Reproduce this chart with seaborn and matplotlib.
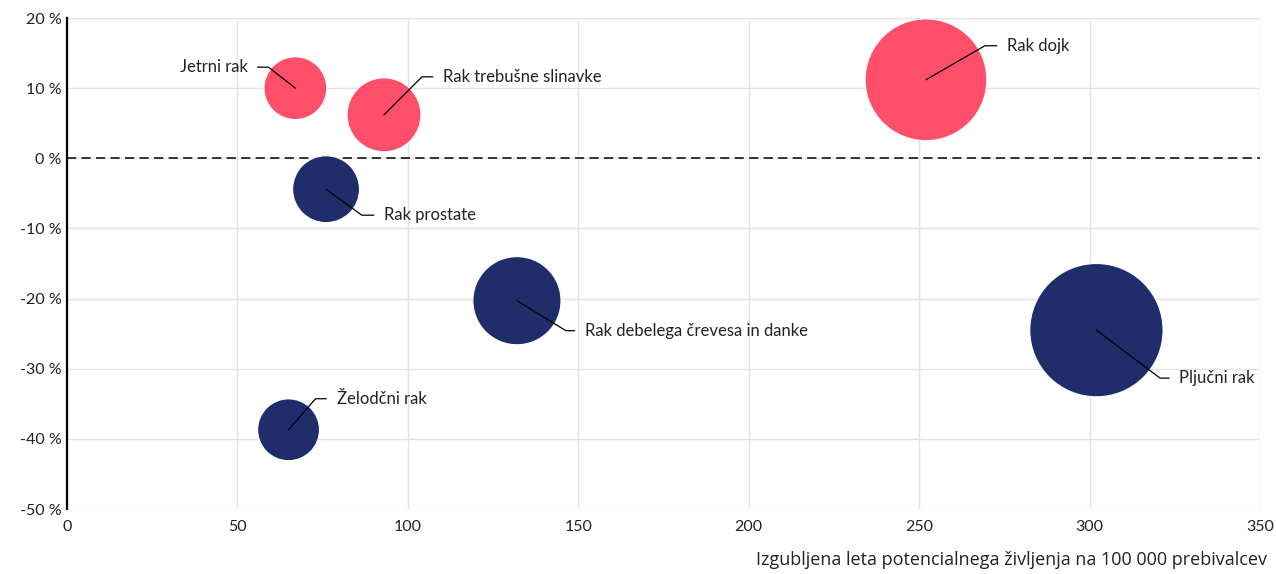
import numpy as np
import pandas as pd
import seaborn as sns
import matplotlib.pyplot as plt
from matplotlib.ticker import FuncFormatter

# podatki
vrste_raka = ['Jetrni rak', 'Rak trebušne slinavke', 'Rak dojk', 'Rak prostate',
              'Rak debelega črevesa in danke', 'Pljučni rak', 'Želodčni rak']
izgubljena_leta = [67, 93, 252, 76, 132, 302, 65]
sprememba = [10.0, 6.2, 11.2, -4.4, -20.3, -24.5, -38.7]
velikost = [67, 93, 252, 76, 132, 302, 65]
skupina = ['rast', 'rast', 'rast', 'padec', 'padec', 'padec', 'padec']

df = pd.DataFrame({'vrsta': vrste_raka, 'x': izgubljena_leta, 'y': sprememba,
                   'velikost': velikost, 'skupina': skupina})

sns.set_theme(style='white')
plt.rcParams['font.family'] = ['Lato', 'DejaVu Sans']

fig = plt.figure(figsize=(12.76, 5.74), dpi=100)
ax = fig.add_axes([0.0525, 0.1132, 0.935, 0.8554])

k = 30.5  # točke^2 na enoto
sns.scatterplot(data=df, x='x', y='y', size='velikost', hue='skupina',
                sizes=(k * min(velikost), k * max(velikost)),
                palette={'rast': '#FF4F6B', 'padec': '#1F2E6B'},
                edgecolor='white', linewidth=0.8, alpha=1, legend=False,
                ax=ax, zorder=3)

ax.set_xlim(0, 350)
ax.set_ylim(-50, 20)
ax.set_xticks(range(0, 351, 50))
ax.set_yticks(range(-50, 21, 10))
ax.yaxis.set_major_formatter(FuncFormatter(lambda v, p: f'{v:.0f} %'))
ax.grid(True, color='#E3E3E3', linewidth=1, zorder=0)
ax.set_axisbelow(True)
for s in ['top', 'right', 'bottom']:
    ax.spines[s].set_visible(False)
ax.spines['left'].set_color('black')
ax.spines['left'].set_linewidth(1.6)
ax.tick_params(axis='both', labelsize=11.5, colors='#222222', length=0, pad=4)
ax.tick_params(axis='x', pad=8)

ax.axhline(0, color='black', linestyle=(0, (6, 3.5)), linewidth=1.1, zorder=2)

ax.set_xlabel('Izgubljena leta potencialnega življenja na 100 000 prebivalcev',
              loc='right', fontsize=13, family=['Open Sans', 'DejaVu Sans'],
              color='#222222', labelpad=12)
ax.xaxis.set_label_coords(1.006, -0.085)
ax.set_ylabel('')

# oznake: odmik besedila v px, kot povezovalne črte
odmiki = {
    'Jetrni rak': (-48, 21, -38, 'right'),
    'Rak trebušne slinavke': (59, 38, 45, 'left'),
    'Rak dojk': (81, 34, 30, 'left'),
    'Rak prostate': (58, -26, -36, 'left'),
    'Rak debelega črevesa in danke': (68, -30, -31.5, 'left'),
    'Pljučni rak': (83, -48, -37, 'left'),
    'Želodčni rak': (48, 31, 49, 'left'),
}
for i, r in df.iterrows():
    dx, dy, kot, ha = odmiki[r['vrsta']]
    ax.annotate(r['vrsta'], xy=(r['x'], r['y']), xytext=(dx * 0.72, dy * 0.72),
                textcoords='offset points', ha=ha, va='center', fontsize=12,
                color='#222222', zorder=5,
                arrowprops=dict(arrowstyle='-', color='black', lw=0.9,
                                shrinkA=5, shrinkB=0,
                                connectionstyle=f'angle,angleA=0,angleB={kot},rad=0'))

plt.savefig('out.png', dpi=100)
